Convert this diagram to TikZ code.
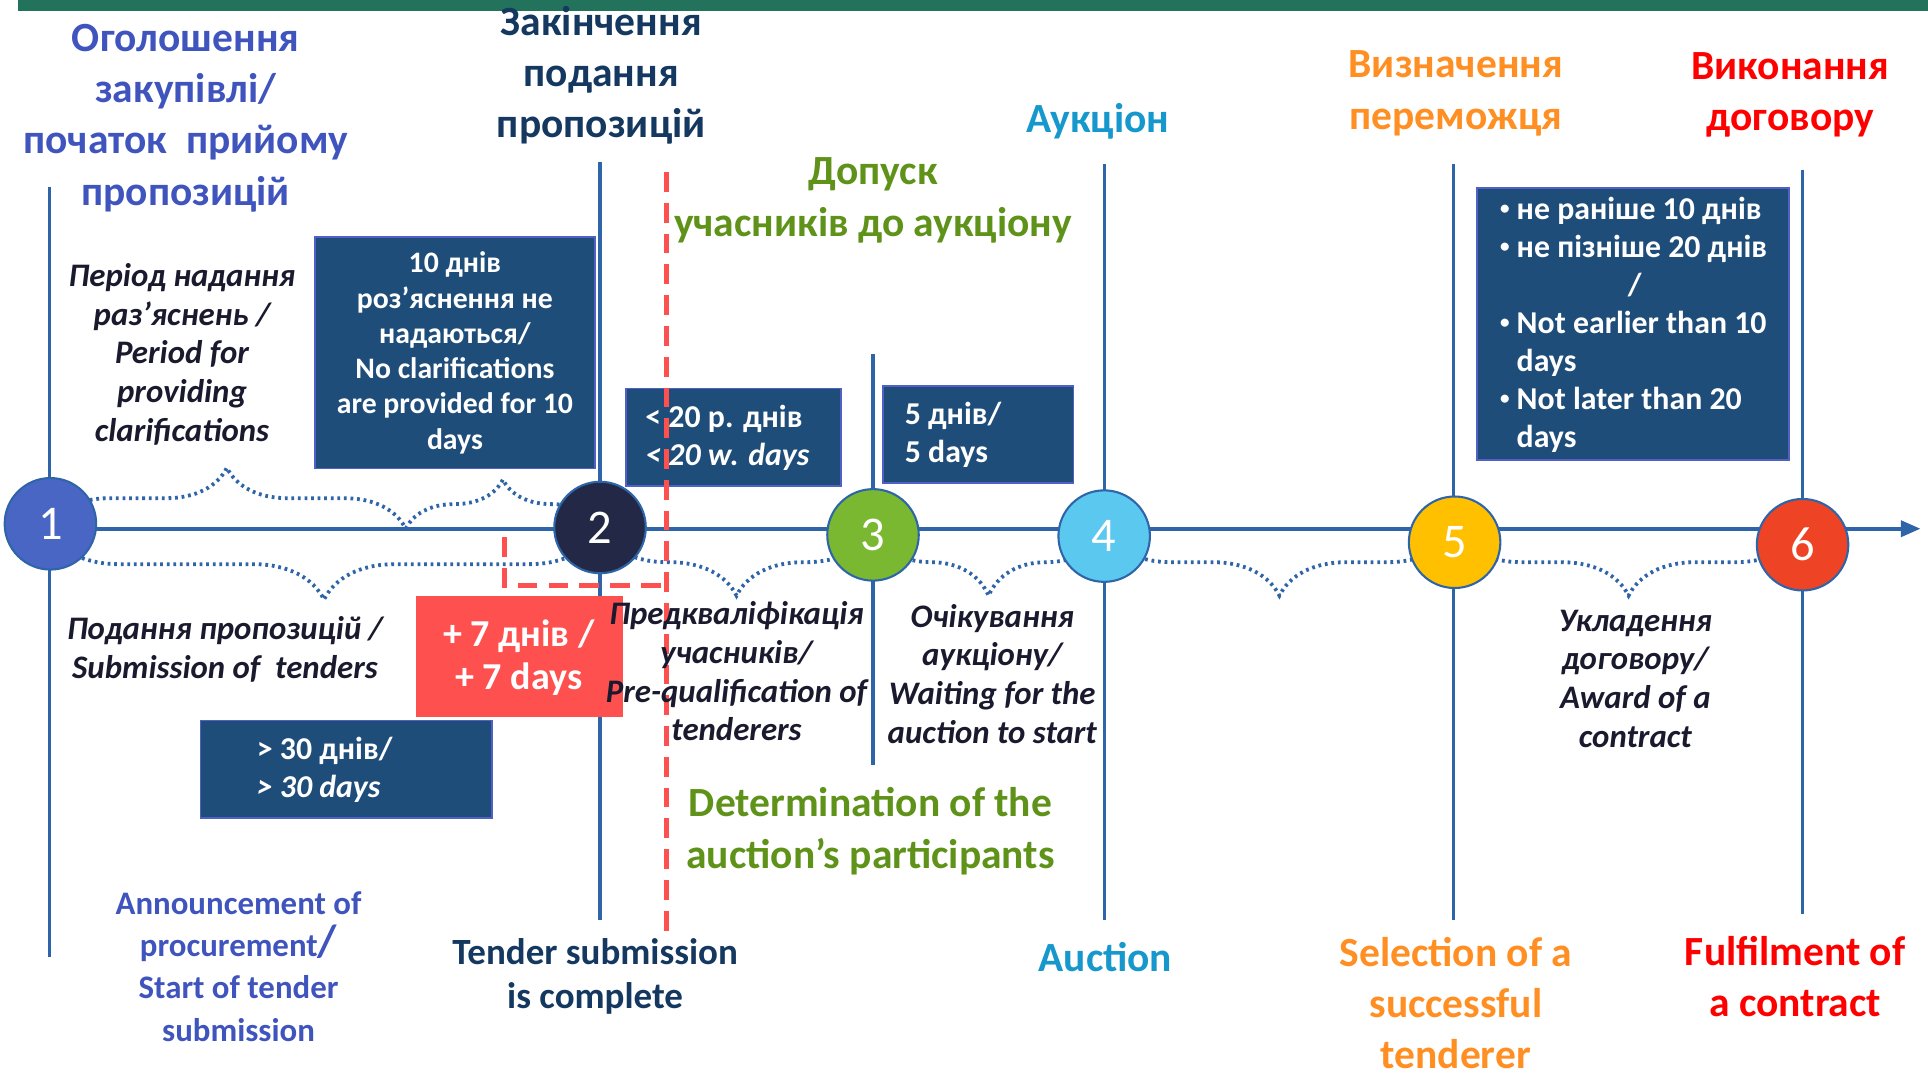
\documentclass[tikz,border=0pt]{standalone}
\usepackage{fontspec}
\setmainfont{Carlito}
\usetikzlibrary{arrows.meta,decorations.pathreplacing}
\definecolor{axisblue}{RGB}{46,100,168}
\definecolor{barteal}{RGB}{35,114,92}
\definecolor{boxnavy}{RGB}{31,77,122}
\definecolor{boxedge}{RGB}{80,96,196}
\definecolor{tblue}{RGB}{64,84,190}
\definecolor{tnavy}{RGB}{20,56,96}
\definecolor{tgreen}{RGB}{94,146,24}
\definecolor{taqua}{RGB}{22,152,204}
\definecolor{torange}{RGB}{255,143,35}
\definecolor{tred}{RGB}{255,0,0}
\definecolor{tdark}{RGB}{26,26,46}
\definecolor{dayred}{RGB}{255,80,80}
\definecolor{cone}{RGB}{74,102,197}
\definecolor{ctwo}{RGB}{34,40,69}
\definecolor{cthree}{RGB}{122,184,49}
\definecolor{cfour}{RGB}{91,200,240}
\definecolor{cfive}{RGB}{255,192,0}
\definecolor{csix}{RGB}{238,67,37}
\newcommand{\smallbul}{\raisebox{0.3ex}{\scalebox{0.6}{•}}\ }
\begin{document}
\begin{tikzpicture}[x=0.0125cm,y=-0.0125cm,
    vline/.style={axisblue,line width=0.9pt},
    tbrace/.style={axisblue,line width=1.1pt,dash pattern=on 0.8pt off 1.1pt,decorate,decoration={brace,amplitude=#1}},
    bbrace/.style={axisblue,line width=1.1pt,dash pattern=on 0.8pt off 1.1pt,decorate,decoration={brace,mirror,amplitude=#1}},
    cutline/.style={dayred,line width=1.4pt,dash pattern=on 5.7pt off 3.2pt},
    stage/.style={circle,draw=axisblue,line width=0.6pt,minimum size=0.93cm,inner sep=0pt,text=white,font=\fontsize{14}{14}\selectfont},
    daybox/.style={fill=boxnavy,draw=boxedge,line width=0.5pt},
    boxtext/.style={text=white,font=\bfseries\fontsize{9.2}{11}\selectfont,align=center},
    ttl/.style={font=\bfseries\fontsize{12}{14.8}\selectfont,align=center},
    note/.style={text=tdark,font=\bfseries\itshape\fontsize{9.5}{11.2}\selectfont,align=center}]
  \useasboundingbox (0,0) rectangle (1568,874);
  \fill[barteal] (15,0) rectangle (1568,9);

  % axis and stage lines
  \coordinate (b1) at (39,430);   \coordinate (bm) at (330,430);
  \coordinate (b2) at (488,430);  \coordinate (b3) at (710,430);
  \coordinate (b4) at (898,430);  \coordinate (b5) at (1183,430);
  \coordinate (b6) at (1466,430); \coordinate (axisend) at (1562,430);
  \draw[vline,line width=1.2pt,-{Triangle[length=2mm,width=1.6mm]}] (b1) -- (axisend);
  \coordinate (s1up) at (40,152);   \coordinate (s1down) at (40,778);
  \coordinate (s2up) at (488,132);  \coordinate (s2down) at (488,748);
  \coordinate (s3up) at (710,288);  \coordinate (s3down) at (710,622);
  \coordinate (s4up) at (898,133);  \coordinate (s4down) at (898,748);
  \coordinate (s5up) at (1182,133); \coordinate (s5down) at (1182,748);
  \coordinate (s6up) at (1466,138); \coordinate (s6down) at (1466,743);
  \foreach \s in {1,...,6}
    \draw[vline] (s\s up) -- (s\s down);

  % braces
  \draw[tbrace=0.62cm] (b1) -- (bm);
  \draw[tbrace=0.5cm] (bm) -- (b2);
  \draw[bbrace=0.72cm] (b1) -- (b2);
  \draw[bbrace=0.68cm] (b2) -- (b3);
  \draw[bbrace=0.68cm] (b3) -- (b4);
  \draw[bbrace=0.68cm] (b4) -- (b5);
  \draw[bbrace=0.68cm] (b5) -- (b6);

  % day boxes
  \draw[daybox] (256,193) rectangle (484,381);
  \node[boxtext,font=\bfseries\fontsize{8.6}{10.2}\selectfont] (noclar) at (370,287) {10 днів\\роз’яснення не\\надаються/\\No clarifications\\are provided for 10\\days};
  \draw[daybox] (509,316) rectangle (684,395);
  \node[boxtext,anchor=west,align=left] (prequal) at (515,356) {< 20 р. днів\\\textit{< 20 w. days}};
  \draw[daybox] (718,314) rectangle (873,393);
  \node[boxtext,anchor=west,align=left] (wait) at (726,354) {5 днів/\\5 days};
  \draw[daybox] (163,586) rectangle (400,665);
  \node[boxtext,anchor=west,align=left] (submit) at (199,626) {> 30 днів/\\\textit{> 30 days}};
  \draw[daybox] (1201,153) rectangle (1455,374);
  \node[boxtext,anchor=west,align=left] (award) at (1210,264) {\smallbul не раніше 10 днів\\\smallbul не пізніше 20 днів\\\hspace*{1.3cm}/\\\smallbul Not earlier than 10\\\hphantom{\smallbul}days\\\smallbul Not later than 20\\\hphantom{\smallbul}days};
  \fill[dayred] (338,485) rectangle (507,583);
  \node[boxtext,font=\bfseries\fontsize{11}{12.6}\selectfont] (extend) at (422,535) {+ 7 днів /\\+ 7 days};

  % cut-off line
  \coordinate (cuttop) at (542,140);   \coordinate (cutbot) at (542,763);
  \coordinate (exttop) at (410,437);   \coordinate (extcorner) at (410,476);
  \coordinate (cutmid) at (542,476);
  \draw[cutline] (cuttop) -- (cutbot);
  \draw[cutline] (exttop) -- (extcorner) -- (cutmid);

  % stages
  \node[stage,fill=cone] (st1) at (41,426) {1};
  \node[stage,fill=ctwo] (st2) at (488,429) {2};
  \node[stage,fill=cthree] (st3) at (710,435) {3};
  \node[stage,fill=cfour] (st4) at (898,436) {4};
  \node[stage,fill=cfive] (st5) at (1183,441) {5};
  \node[stage,fill=csix] (st6) at (1466,443) {6};

  % titles
  \node[ttl,text=tblue] (announce) at (151,96) {Оголошення\\закупівлі/\\початок\ \ прийому\\пропозицій};
  \node[ttl,text=tnavy] (closing) at (489,61) {Закінчення\\подання\\пропозицій};
  \node[ttl,text=tgreen] (admission) at (710,163) {Допуск\\учасників до аукціону};
  \node[ttl,text=taqua] (auctionua) at (893,99) {Аукціон};
  \node[ttl,text=torange] (winnerua) at (1184,76) {Визначення\\переможця};
  \node[ttl,text=tred] (contractua) at (1456,77) {Виконання\\договору};
  \node[ttl,text=tblue,font=\bfseries\fontsize{9.5}{12.2}\selectfont] (announceen) at (194,786) {Announcement of\\procurement{\fontsize{13}{13}\selectfont/}\\Start of tender\\submission};
  \node[ttl,text=tnavy,font=\bfseries\fontsize{10.7}{12.8}\selectfont] (closingen) at (484,794) {Tender submission\\is complete};
  \node[ttl,text=tgreen] (admissionen) at (708,676) {Determination of the\\auction’s participants};
  \node[ttl,text=taqua] (auctionen) at (899,778) {Auction};
  \node[ttl,text=torange] (winneren) at (1184,816) {Selection of a\\successful\\tenderer};
  \node[ttl,text=tred] (contracten) at (1460,794) {Fulfilment of\\a contract};

  % period notes
  \node[note] (clarnote) at (148,288) {Період надання\\раз’яснень /\\Period for\\providing\\clarifications};
  \node[note] (submitnote) at (183,528) {Подання пропозицій /\\Submission of\ \ tenders};
  \node[note] (prequalnote) at (599,546) {Предкваліфікація\\учасників/\\Pre-qualification of\\tenderers};
  \node[note] (waitnote) at (807,548) {Очікування\\аукціону/\\Waiting for the\\auction to start};
  \node[note] (awardnote) at (1330,552) {Укладення\\договору/\\Award of a\\contract};
\end{tikzpicture}
\end{document}
